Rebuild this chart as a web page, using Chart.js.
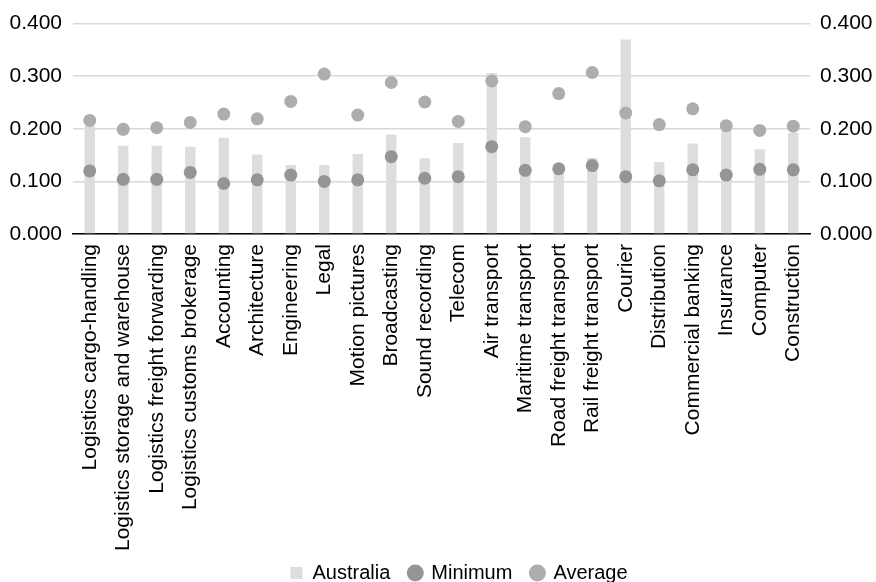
<!DOCTYPE html>
<html>
<head>
<meta charset="utf-8">
<script src="https://cdn.jsdelivr.net/npm/chart.js@4/dist/chart.umd.min.js"></script>
<style>
    html, body { margin: 0; padding: 0; background: #fff; }
    #wrap { width: 876px; height: 582px; position: relative; }
</style>
</head>
<body>
<div id="wrap"><canvas id="chart"></canvas></div>
<script>
const categories = [
    'Logistics cargo-handling', 'Logistics storage and warehouse', 'Logistics freight forwarding',
    'Logistics customs brokerage', 'Accounting', 'Architecture', 'Engineering', 'Legal',
    'Motion pictures', 'Broadcasting', 'Sound recording', 'Telecom', 'Air transport',
    'Maritime transport', 'Road freight transport', 'Rail freight transport', 'Courier',
    'Distribution', 'Commercial banking', 'Insurance', 'Computer', 'Construction'
];
const australia = [0.206, 0.168, 0.168, 0.166, 0.183, 0.151, 0.131, 0.131, 0.152, 0.189, 0.144,
    0.173, 0.306, 0.184, 0.125, 0.145, 0.370, 0.137, 0.172, 0.197, 0.161, 0.192];
const minimum = [0.120, 0.104, 0.104, 0.117, 0.096, 0.103, 0.112, 0.100, 0.103, 0.147, 0.106,
    0.109, 0.166, 0.121, 0.124, 0.130, 0.109, 0.101, 0.122, 0.112, 0.123, 0.122];
const average = [0.216, 0.199, 0.202, 0.212, 0.228, 0.219, 0.252, 0.304, 0.226, 0.288, 0.251,
    0.214, 0.291, 0.204, 0.267, 0.307, 0.230, 0.208, 0.238, 0.206, 0.197, 0.205];
const yTicks = [0, 0.1, 0.2, 0.3, 0.4];

const FAMILY = '"Liberation Sans", Arial, sans-serif';
Chart.defaults.font = { family: FAMILY, size: 20 };
Chart.defaults.color = '#000';
const tickFont = { family: FAMILY, size: 21 };

const tickFmt = v => Number(v).toFixed(3);
const fixTicks = axis => { axis.ticks = yTicks.map(v => ({ value: v })); };

// legend sits a little right of centre in the original, and the longest
// category label runs down past the top of the legend box
const layoutTweaks = {
    id: 'layoutTweaks',
    afterLayout(chart) {
        if (chart.legend) {
            chart.legend.left += 16;
            chart.legend.right += 16;
        }
        chart.scales.x.bottom += 16;
    }
};

new Chart(document.getElementById('chart'), {
    data: {
        labels: categories,
        datasets: [
            {
                type: 'bar',
                label: 'Australia',
                data: australia,
                backgroundColor: '#dddddd',
                categoryPercentage: 1,
                barPercentage: 0.31,
                order: 3,
                pointStyle: 'rect'
            },
            {
                type: 'line',
                label: 'Minimum',
                data: minimum,
                showLine: false,
                pointRadius: 6.5,
                pointBorderWidth: 0,
                backgroundColor: '#959595',
                borderColor: '#959595',
                order: 2
            },
            {
                type: 'line',
                label: 'Average',
                data: average,
                showLine: false,
                pointRadius: 6.5,
                pointBorderWidth: 0,
                backgroundColor: '#adadad',
                borderColor: '#adadad',
                order: 1
            }
        ]
    },
    plugins: [layoutTweaks],
    options: {
        responsive: true,
        maintainAspectRatio: false,
        animation: false,
        layout: { padding: { left: 10, right: 0, top: 16, bottom: -11 } },
        plugins: {
            tooltip: { enabled: false },
            legend: {
                position: 'bottom',
                labels: {
                    usePointStyle: true,
                    boxWidth: 12,
                    boxHeight: 12,
                    padding: 19,
                    sort: (a, b) => a.datasetIndex - b.datasetIndex
                }
            }
        },
        scales: {
            x: {
                offset: true,
                grid: { display: false },
                border: { display: true, color: '#000', width: 1.5 },
                ticks: { font: tickFont, minRotation: 90, maxRotation: 90, autoSkip: false, padding: 2 },
                afterFit: axis => { axis.height = 310; }
            },
            y: {
                position: 'left',
                min: 0,
                max: 0.4,
                afterBuildTicks: fixTicks,
                afterFit: axis => { axis.width = 63; },
                grid: { color: '#d9d9d9', lineWidth: 1.5, drawTicks: false },
                border: { display: false },
                ticks: { font: tickFont, callback: tickFmt, padding: 11 }
            },
            y2: {
                position: 'right',
                min: 0,
                max: 0.4,
                afterBuildTicks: fixTicks,
                afterFit: axis => { axis.width = 66; },
                grid: { display: false, drawTicks: false },
                border: { display: false },
                ticks: { font: tickFont, callback: tickFmt, padding: 10 }
            }
        }
    }
});
</script>
</body>
</html>
